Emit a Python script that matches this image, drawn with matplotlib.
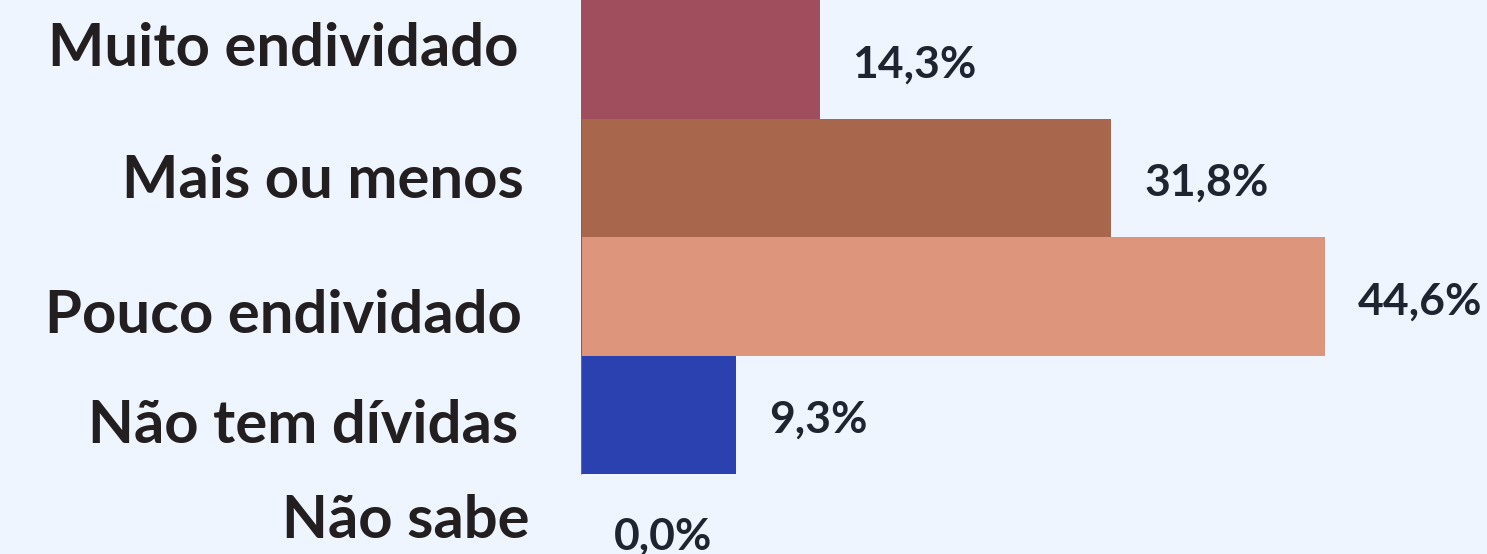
import matplotlib
matplotlib.use("Agg")
import matplotlib.pyplot as plt

categories = ["Muito endividado", "Mais ou menos", "Pouco endividado",
              "Não tem dívidas", "Não sabe"]
values = [14.3, 31.8, 44.6, 9.3, 0.0]
value_labels = ["14,3%", "31,8%", "44,6%", "9,3%", "0,0%"]
bar_colors = ["#A04E5D", "#A8674D", "#DD957B", "#2C41B0", "#2C41B0"]

BG = "#EEF5FF"
DPI = 100
W, H = 1487, 554
X0 = 581           # pixel where bars start
PX_PER_PCT = 16.68
ROW_H = 118.5

# label layout (px): right edge of category text, baseline below row centre
cat_right = [518, 524, 522, 518, 530]
cat_base = [7, 20, 37, 28, 5]
val_base = [18, 18, 18, 18, 16]


def px2pt(p):
    return p * 72.0 / DPI


plt.rcParams["font.family"] = ["Lato", "DejaVu Sans"]

fig = plt.figure(figsize=(W / DPI, H / DPI), dpi=DPI, facecolor=BG)
ax = fig.add_axes([X0 / W, 0, 1 - X0 / W, 1])
ax.set_facecolor(BG)

y = list(range(len(categories)))
ax.barh(y, values, height=1.0, color=bar_colors, linewidth=0)
ax.vlines(0, -0.5, 3.5, color="#6a6a6a", linewidth=0.8)

ax.set_xlim(0, (W - X0) / PX_PER_PCT)
ax.set_ylim(-0.5 + H / ROW_H, -0.5)
ax.axis("off")

for i, (cat, v, lab) in enumerate(zip(categories, values, value_labels)):
    ax.annotate(cat, xy=(0, i), xytext=(px2pt(-(X0 - cat_right[i])), -px2pt(cat_base[i])),
                textcoords="offset points", ha="right", va="baseline",
                fontsize=43, fontweight="bold", color="#231F20",
                annotation_clip=False)
    ax.annotate(lab, xy=(v, i), xytext=(px2pt(33), -px2pt(val_base[i])),
                textcoords="offset points", ha="left", va="baseline",
                fontsize=32, fontweight="bold", color="#1E2430",
                annotation_clip=False)

fig.savefig("out.png", dpi=DPI, facecolor=BG)
